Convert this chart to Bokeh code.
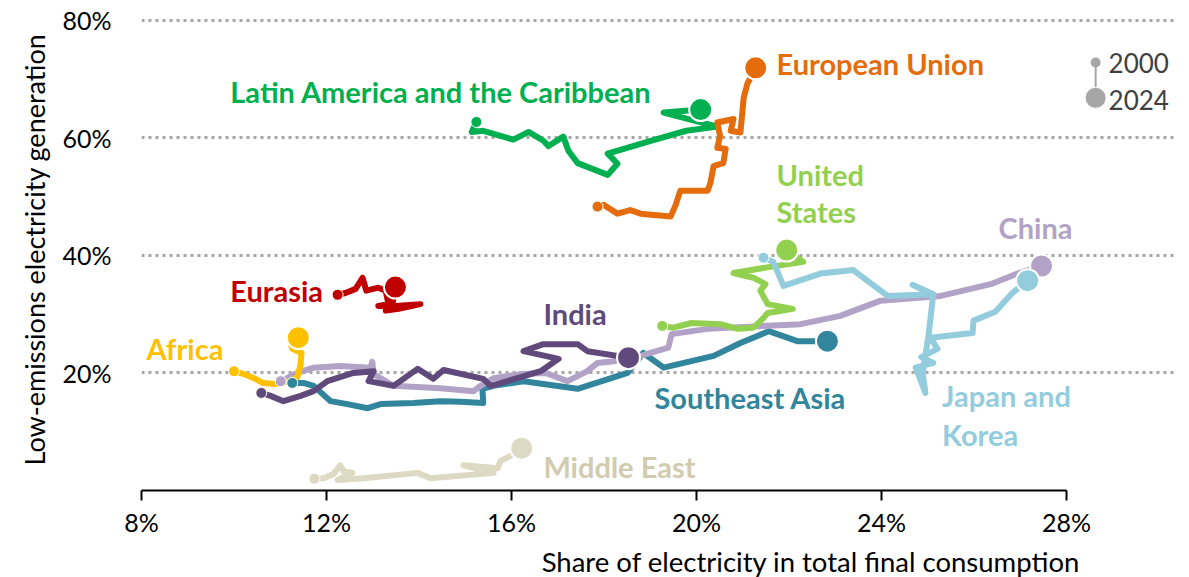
from bokeh.plotting import figure
from bokeh.models import Range1d, FixedTicker, CustomJSTickFormatter, Title
from bokeh.core.properties import value
from bokeh.embed import file_html
from bokeh.resources import INLINE

FONT = "Lato"

# ---- data: share of electricity in TFC (%) and low-emissions generation (%) ----
latam_x = [15.24, 15.14, 15.39, 16.04, 16.37, 16.69, 16.80, 17.12, 17.23, 17.43, 18.08, 18.29, 18.08, 19.01, 19.78, 20.45, 19.29, 20.09]
latam_y = [62.7, 61.0, 61.2, 59.7, 61.0, 59.5, 58.6, 60.2, 57.8, 55.7, 53.7, 55.6, 57.3, 59.5, 61.2, 61.9, 64.3, 64.8]

eu_x = [17.86, 17.99, 18.29, 18.57, 18.79, 19.44, 19.55, 19.65, 20.24, 20.30, 20.37, 20.58, 20.63, 20.45, 20.51, 20.45, 20.80, 20.74, 20.95, 21.02, 21.10, 21.28]
eu_y = [48.3, 48.6, 47.1, 47.7, 47.1, 46.6, 48.6, 51.0, 51.0, 52.3, 55.2, 55.7, 58.1, 58.3, 60.3, 62.6, 63.2, 61.2, 60.9, 66.8, 69.2, 71.9]

eurasia_x = [12.24, 12.41, 12.63, 12.78, 12.86, 13.12, 13.28, 13.34, 13.12, 13.49, 14.03, 13.56, 13.28, 13.43, 13.49]
eurasia_y = [33.3, 33.6, 34.3, 36.2, 34.0, 34.5, 34.0, 31.7, 31.4, 31.4, 31.7, 30.9, 30.6, 31.9, 34.6]

africa_x = [10.00, 10.25, 10.46, 10.62, 10.90, 11.22, 11.37, 11.44, 11.46, 11.26, 11.22, 11.39]
africa_y = [20.3, 19.7, 19.0, 18.3, 18.1, 18.6, 19.3, 21.4, 23.4, 24.1, 25.1, 26.0]

china_x = [11.01, 11.37, 11.72, 12.30, 12.95, 12.99, 13.02, 13.45, 14.46, 15.18, 15.33, 15.61, 16.19, 16.74, 17.21, 17.64, 17.86, 18.21, 18.79, 19.39, 19.46, 20.24, 22.25, 23.11, 23.98, 25.28, 26.36, 26.94, 27.46]
china_y = [18.6, 20.0, 20.9, 21.2, 20.9, 21.9, 19.8, 17.8, 17.4, 16.9, 17.8, 19.1, 19.8, 20.0, 18.6, 20.3, 21.7, 22.0, 22.9, 24.3, 26.6, 27.5, 28.3, 29.7, 32.3, 33.1, 35.1, 36.9, 38.2]

india_x = [10.59, 10.79, 11.07, 11.44, 11.72, 12.02, 12.58, 13.02, 12.91, 13.45, 13.97, 14.31, 14.53, 15.39, 15.55, 15.91, 16.63, 17.02, 16.26, 16.69, 17.43, 17.64, 18.53]
india_y = [16.6, 16.1, 15.2, 16.1, 16.9, 18.6, 20.0, 20.3, 18.6, 17.8, 20.7, 19.0, 20.5, 19.0, 17.8, 18.6, 20.3, 22.4, 23.7, 24.9, 24.9, 23.7, 22.6]

sea_x = [11.26, 11.50, 11.72, 12.09, 12.45, 12.89, 13.17, 13.88, 14.46, 14.90, 15.39, 15.37, 15.61, 16.26, 17.43, 18.51, 18.85, 19.29, 20.37, 20.95, 21.56, 22.18, 22.83]
sea_y = [18.3, 18.3, 17.8, 15.2, 14.7, 14.0, 14.7, 14.9, 15.2, 15.1, 14.9, 17.3, 17.8, 18.6, 17.3, 20.0, 23.4, 20.9, 22.9, 25.1, 27.1, 25.4, 25.4]

us_x = [19.26, 19.50, 19.89, 20.52, 20.89, 21.23, 21.43, 21.54, 22.08, 21.54, 21.38, 21.49, 21.23, 20.80, 21.56, 22.31, 21.95]
us_y = [28.0, 27.7, 28.5, 28.3, 27.5, 27.7, 29.2, 30.2, 30.9, 31.7, 34.0, 35.1, 36.2, 37.0, 38.0, 38.9, 40.9]

japan_x = [21.45, 21.66, 21.88, 22.68, 23.39, 24.13, 25.10, 24.67, 25.12, 25.02, 24.89, 24.95, 24.74, 25.12, 24.86, 25.21, 25.06, 25.97, 25.99, 26.46, 26.83, 27.16]
japan_y = [39.6, 38.9, 34.8, 36.9, 37.5, 33.1, 33.4, 35.0, 33.4, 26.6, 20.0, 16.6, 20.9, 21.7, 22.7, 24.1, 26.0, 26.8, 28.9, 30.4, 33.6, 35.7]

mideast_x = [11.74, 11.94, 12.15, 12.30, 12.37, 12.56, 12.24, 12.80, 13.97, 14.25, 15.61, 14.96, 15.70, 15.76, 15.98, 16.22]
mideast_y = [2.0, 2.1, 2.8, 4.3, 3.3, 3.0, 1.8, 2.1, 3.0, 2.1, 3.0, 4.3, 3.8, 5.0, 5.9, 7.2]

# ---- region labels ----
label_texts = ["Latin America and the Caribbean", "European Union", "United", "States", "China",
               "Eurasia", "India", "Africa", "Southeast Asia", "Japan and", "Korea", "Middle East"]
label_x = [9.92, 21.73, 21.73, 21.73, 26.53, 9.92, 16.69, 8.11, 19.09, 25.31, 25.31, 16.69]
label_y = [67.8, 72.7, 53.8, 47.5, 44.7, 34.0, 30.1, 24.1, 15.9, 16.1, 9.6, 4.0]
label_colors = ["#00B050", "#E46C0A", "#92D050", "#92D050", "#B3A2C7",
                "#C00000", "#604A7B", "#FFC000", "#31859C", "#93CDDD", "#93CDDD", "#D2CBAE"]

x_ticks = [8, 12, 16, 20, 24, 28]
y_ticks = [20, 40, 60, 80]
legend_years = ["2000", "2024"]

series = [
    (mideast_x, mideast_y, "#DDD9C3"),
    (sea_x, sea_y, "#31859C"),
    (china_x, china_y, "#B3A2C7"),
    (india_x, india_y, "#604A7B"),
    (africa_x, africa_y, "#FFC000"),
    (eurasia_x, eurasia_y, "#C00000"),
    (us_x, us_y, "#92D050"),
    (japan_x, japan_y, "#93CDDD"),
    (latam_x, latam_y, "#00B050"),
    (eu_x, eu_y, "#E46C0A"),
]

p = figure(frame_width=1036, frame_height=482,
           min_border_left=141, min_border_right=2, min_border_top=8, min_border_bottom=84,
           x_range=Range1d(8, 30.4), y_range=Range1d(0, 82),
           output_backend="svg", toolbar_location=None)
p.outline_line_color = None
p.background_fill_color = "white"
p.border_fill_color = "white"

# axes
p.xaxis.ticker = FixedTicker(ticks=x_ticks, minor_ticks=[])
p.yaxis.ticker = FixedTicker(ticks=y_ticks, minor_ticks=[])
fmt = CustomJSTickFormatter(code="return tick.toFixed(0) + '%';")
p.xaxis.formatter = fmt
p.yaxis.formatter = fmt
p.xaxis.bounds = (8, 28)
p.xaxis.axis_line_color = "#000000"
p.xaxis.axis_line_width = 2
p.xaxis.major_tick_line_color = "#000000"
p.xaxis.major_tick_line_width = 2
p.xaxis.major_tick_out = 10
p.xaxis.major_tick_in = 0
p.xaxis.minor_tick_line_color = None
p.xaxis.major_label_standoff = 6
p.yaxis.axis_line_color = None
p.yaxis.major_tick_line_color = None
p.yaxis.minor_tick_line_color = None
p.yaxis.major_label_standoff = 24
for ax in (p.xaxis[0], p.yaxis[0]):
    ax.major_label_text_font = FONT
    ax.major_label_text_font_size = "25px"
    ax.major_label_text_color = "#000000"
p.yaxis.axis_label = "Low-emissions electricity generation"
p.yaxis.axis_label_text_font = FONT
p.yaxis.axis_label_text_font_size = "27px"
p.yaxis.axis_label_text_font_style = "normal"
p.yaxis.axis_label_text_color = "#000000"
p.yaxis.axis_label_standoff = 8

# grid
p.xgrid.visible = False
p.ygrid.ticker = FixedTicker(ticks=y_ticks)
p.ygrid.bounds = (8, 27.92)
p.ygrid.grid_line_color = "#A6A6A6"
p.ygrid.grid_line_width = 3
p.ygrid.grid_line_dash = "3 4"

# lines
for xs, ys, c in series:
    p.line(xs, ys, line_width=6, line_color=c, line_join="round", line_cap="round")
for xs, ys, c in series:
    p.scatter([xs[0]], [ys[0]], size=11, fill_color=c, line_color="white", line_width=1)
for xs, ys, c in series:
    p.scatter([xs[-1]], [ys[-1]], size=23, fill_color=c, line_color="white", line_width=2)

# region labels
p.text(x=label_x, y=label_y, text=label_texts, text_color=label_colors,
       text_font=value(FONT), text_font_style="bold", text_font_size="29px",
       text_align="left", text_baseline="middle")

# legend (2000 -> 2024)
leg_x = [28.63, 28.63]
leg_y = [72.8, 66.8]
p.line(leg_x, leg_y, line_color="#A6A6A6", line_width=2)
p.scatter([leg_x[0]], [leg_y[0]], size=10, fill_color="#A6A6A6", line_color=None)
p.scatter([leg_x[1]], [leg_y[1]], size=21, fill_color="#A6A6A6", line_color="white", line_width=1)
p.text(x=[28.91, 28.91], y=[72.8, 66.5], text=legend_years, text_color="#404040",
       text_font=value(FONT), text_font_size="26px", text_align="left", text_baseline="middle")

# x axis title, right aligned near the 28% tick
p.add_layout(Title(text="Share of electricity in total final consumption", align="right", offset=97,
                   text_font=FONT, text_font_size="27.5px", text_font_style="normal",
                   text_color="#000000", standoff=6), "below")

open("out.html", "w").write(file_html(p, INLINE))
